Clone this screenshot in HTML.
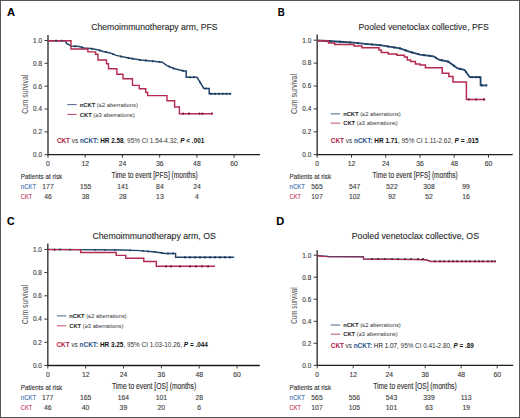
<!DOCTYPE html>
<html><head><meta charset="utf-8"><style>
html,body{margin:0;padding:0;background:#fff;}
body{width:520px;height:418px;overflow:hidden;position:relative;}
svg{position:absolute;left:0;top:0;font-family:"Liberation Sans",sans-serif;}
svg text{stroke-width:0.12px;}

.frame{position:absolute;left:0;top:0;width:518px;height:416px;border:1px solid #555;}
</style></head><body>
<svg width="520" height="418" viewBox="0 0 520 418">
<line x1="48.0" y1="35.0" x2="48.0" y2="155.2" stroke="#4e4e4e" stroke-width="1.6"/>
<line x1="47.4" y1="154.7" x2="260.0" y2="154.7" stroke="#1e1e1e" stroke-width="1.3"/>
<line x1="44.5" y1="154.7" x2="48.0" y2="154.7" stroke="#3a3a3a" stroke-width="1.0"/>
<text x="42.0" y="157.0" font-size="6.4" text-anchor="end" fill="#3c3c3c" stroke="#3c3c3c" font-weight="normal" >0.0</text>
<line x1="44.5" y1="131.9" x2="48.0" y2="131.9" stroke="#3a3a3a" stroke-width="1.0"/>
<text x="42.0" y="134.2" font-size="6.4" text-anchor="end" fill="#3c3c3c" stroke="#3c3c3c" font-weight="normal" >0.2</text>
<line x1="44.5" y1="109.0" x2="48.0" y2="109.0" stroke="#3a3a3a" stroke-width="1.0"/>
<text x="42.0" y="111.3" font-size="6.4" text-anchor="end" fill="#3c3c3c" stroke="#3c3c3c" font-weight="normal" >0.4</text>
<line x1="44.5" y1="86.2" x2="48.0" y2="86.2" stroke="#3a3a3a" stroke-width="1.0"/>
<text x="42.0" y="88.5" font-size="6.4" text-anchor="end" fill="#3c3c3c" stroke="#3c3c3c" font-weight="normal" >0.6</text>
<line x1="44.5" y1="63.3" x2="48.0" y2="63.3" stroke="#3a3a3a" stroke-width="1.0"/>
<text x="42.0" y="65.6" font-size="6.4" text-anchor="end" fill="#3c3c3c" stroke="#3c3c3c" font-weight="normal" >0.8</text>
<line x1="44.5" y1="40.5" x2="48.0" y2="40.5" stroke="#3a3a3a" stroke-width="1.0"/>
<text x="42.0" y="42.8" font-size="6.4" text-anchor="end" fill="#3c3c3c" stroke="#3c3c3c" font-weight="normal" >1.0</text>
<line x1="48.0" y1="154.7" x2="48.0" y2="157.7" stroke="#3a3a3a" stroke-width="1.0"/>
<text x="48.0" y="166.4" font-size="6.8" text-anchor="middle" fill="#3c3c3c" stroke="#3c3c3c" font-weight="normal" >0</text>
<line x1="85.2" y1="154.7" x2="85.2" y2="157.7" stroke="#3a3a3a" stroke-width="1.0"/>
<text x="85.2" y="166.4" font-size="6.8" text-anchor="middle" fill="#3c3c3c" stroke="#3c3c3c" font-weight="normal" >12</text>
<line x1="122.5" y1="154.7" x2="122.5" y2="157.7" stroke="#3a3a3a" stroke-width="1.0"/>
<text x="122.5" y="166.4" font-size="6.8" text-anchor="middle" fill="#3c3c3c" stroke="#3c3c3c" font-weight="normal" >24</text>
<line x1="159.7" y1="154.7" x2="159.7" y2="157.7" stroke="#3a3a3a" stroke-width="1.0"/>
<text x="159.7" y="166.4" font-size="6.8" text-anchor="middle" fill="#3c3c3c" stroke="#3c3c3c" font-weight="normal" >36</text>
<line x1="196.9" y1="154.7" x2="196.9" y2="157.7" stroke="#3a3a3a" stroke-width="1.0"/>
<text x="196.9" y="166.4" font-size="6.8" text-anchor="middle" fill="#3c3c3c" stroke="#3c3c3c" font-weight="normal" >48</text>
<line x1="234.1" y1="154.7" x2="234.1" y2="157.7" stroke="#3a3a3a" stroke-width="1.0"/>
<text x="234.1" y="166.4" font-size="6.8" text-anchor="middle" fill="#3c3c3c" stroke="#3c3c3c" font-weight="normal" >60</text>
<line x1="317.2" y1="34.6" x2="317.2" y2="155.2" stroke="#4e4e4e" stroke-width="1.6"/>
<line x1="316.6" y1="154.7" x2="512.7" y2="154.7" stroke="#1e1e1e" stroke-width="1.3"/>
<line x1="313.7" y1="154.7" x2="317.2" y2="154.7" stroke="#3a3a3a" stroke-width="1.0"/>
<text x="311.2" y="157.0" font-size="6.4" text-anchor="end" fill="#3c3c3c" stroke="#3c3c3c" font-weight="normal" >0.0</text>
<line x1="313.7" y1="131.8" x2="317.2" y2="131.8" stroke="#3a3a3a" stroke-width="1.0"/>
<text x="311.2" y="134.1" font-size="6.4" text-anchor="end" fill="#3c3c3c" stroke="#3c3c3c" font-weight="normal" >0.2</text>
<line x1="313.7" y1="108.9" x2="317.2" y2="108.9" stroke="#3a3a3a" stroke-width="1.0"/>
<text x="311.2" y="111.2" font-size="6.4" text-anchor="end" fill="#3c3c3c" stroke="#3c3c3c" font-weight="normal" >0.4</text>
<line x1="313.7" y1="86.0" x2="317.2" y2="86.0" stroke="#3a3a3a" stroke-width="1.0"/>
<text x="311.2" y="88.3" font-size="6.4" text-anchor="end" fill="#3c3c3c" stroke="#3c3c3c" font-weight="normal" >0.6</text>
<line x1="313.7" y1="63.1" x2="317.2" y2="63.1" stroke="#3a3a3a" stroke-width="1.0"/>
<text x="311.2" y="65.4" font-size="6.4" text-anchor="end" fill="#3c3c3c" stroke="#3c3c3c" font-weight="normal" >0.8</text>
<line x1="313.7" y1="40.2" x2="317.2" y2="40.2" stroke="#3a3a3a" stroke-width="1.0"/>
<text x="311.2" y="42.5" font-size="6.4" text-anchor="end" fill="#3c3c3c" stroke="#3c3c3c" font-weight="normal" >1.0</text>
<line x1="317.2" y1="154.7" x2="317.2" y2="157.7" stroke="#3a3a3a" stroke-width="1.0"/>
<text x="317.2" y="166.4" font-size="6.8" text-anchor="middle" fill="#3c3c3c" stroke="#3c3c3c" font-weight="normal" >0</text>
<line x1="351.5" y1="154.7" x2="351.5" y2="157.7" stroke="#3a3a3a" stroke-width="1.0"/>
<text x="351.5" y="166.4" font-size="6.8" text-anchor="middle" fill="#3c3c3c" stroke="#3c3c3c" font-weight="normal" >12</text>
<line x1="385.7" y1="154.7" x2="385.7" y2="157.7" stroke="#3a3a3a" stroke-width="1.0"/>
<text x="385.7" y="166.4" font-size="6.8" text-anchor="middle" fill="#3c3c3c" stroke="#3c3c3c" font-weight="normal" >24</text>
<line x1="420.0" y1="154.7" x2="420.0" y2="157.7" stroke="#3a3a3a" stroke-width="1.0"/>
<text x="420.0" y="166.4" font-size="6.8" text-anchor="middle" fill="#3c3c3c" stroke="#3c3c3c" font-weight="normal" >36</text>
<line x1="454.2" y1="154.7" x2="454.2" y2="157.7" stroke="#3a3a3a" stroke-width="1.0"/>
<text x="454.2" y="166.4" font-size="6.8" text-anchor="middle" fill="#3c3c3c" stroke="#3c3c3c" font-weight="normal" >48</text>
<line x1="488.5" y1="154.7" x2="488.5" y2="157.7" stroke="#3a3a3a" stroke-width="1.0"/>
<text x="488.5" y="166.4" font-size="6.8" text-anchor="middle" fill="#3c3c3c" stroke="#3c3c3c" font-weight="normal" >60</text>
<line x1="47.8" y1="243.6" x2="47.8" y2="366.0" stroke="#4e4e4e" stroke-width="1.6"/>
<line x1="47.2" y1="365.5" x2="259.8" y2="365.5" stroke="#1e1e1e" stroke-width="1.3"/>
<line x1="44.3" y1="365.5" x2="47.8" y2="365.5" stroke="#3a3a3a" stroke-width="1.0"/>
<text x="41.8" y="367.8" font-size="6.4" text-anchor="end" fill="#3c3c3c" stroke="#3c3c3c" font-weight="normal" >0.0</text>
<line x1="44.3" y1="342.3" x2="47.8" y2="342.3" stroke="#3a3a3a" stroke-width="1.0"/>
<text x="41.8" y="344.6" font-size="6.4" text-anchor="end" fill="#3c3c3c" stroke="#3c3c3c" font-weight="normal" >0.2</text>
<line x1="44.3" y1="319.1" x2="47.8" y2="319.1" stroke="#3a3a3a" stroke-width="1.0"/>
<text x="41.8" y="321.4" font-size="6.4" text-anchor="end" fill="#3c3c3c" stroke="#3c3c3c" font-weight="normal" >0.4</text>
<line x1="44.3" y1="295.8" x2="47.8" y2="295.8" stroke="#3a3a3a" stroke-width="1.0"/>
<text x="41.8" y="298.1" font-size="6.4" text-anchor="end" fill="#3c3c3c" stroke="#3c3c3c" font-weight="normal" >0.6</text>
<line x1="44.3" y1="272.6" x2="47.8" y2="272.6" stroke="#3a3a3a" stroke-width="1.0"/>
<text x="41.8" y="274.9" font-size="6.4" text-anchor="end" fill="#3c3c3c" stroke="#3c3c3c" font-weight="normal" >0.8</text>
<line x1="44.3" y1="249.4" x2="47.8" y2="249.4" stroke="#3a3a3a" stroke-width="1.0"/>
<text x="41.8" y="251.7" font-size="6.4" text-anchor="end" fill="#3c3c3c" stroke="#3c3c3c" font-weight="normal" >1.0</text>
<line x1="47.8" y1="365.5" x2="47.8" y2="368.5" stroke="#3a3a3a" stroke-width="1.0"/>
<text x="47.8" y="377.0" font-size="6.8" text-anchor="middle" fill="#3c3c3c" stroke="#3c3c3c" font-weight="normal" >0</text>
<line x1="85.7" y1="365.5" x2="85.7" y2="368.5" stroke="#3a3a3a" stroke-width="1.0"/>
<text x="85.7" y="377.0" font-size="6.8" text-anchor="middle" fill="#3c3c3c" stroke="#3c3c3c" font-weight="normal" >12</text>
<line x1="123.5" y1="365.5" x2="123.5" y2="368.5" stroke="#3a3a3a" stroke-width="1.0"/>
<text x="123.5" y="377.0" font-size="6.8" text-anchor="middle" fill="#3c3c3c" stroke="#3c3c3c" font-weight="normal" >24</text>
<line x1="161.4" y1="365.5" x2="161.4" y2="368.5" stroke="#3a3a3a" stroke-width="1.0"/>
<text x="161.4" y="377.0" font-size="6.8" text-anchor="middle" fill="#3c3c3c" stroke="#3c3c3c" font-weight="normal" >36</text>
<line x1="199.2" y1="365.5" x2="199.2" y2="368.5" stroke="#3a3a3a" stroke-width="1.0"/>
<text x="199.2" y="377.0" font-size="6.8" text-anchor="middle" fill="#3c3c3c" stroke="#3c3c3c" font-weight="normal" >48</text>
<line x1="237.1" y1="365.5" x2="237.1" y2="368.5" stroke="#3a3a3a" stroke-width="1.0"/>
<text x="237.1" y="377.0" font-size="6.8" text-anchor="middle" fill="#3c3c3c" stroke="#3c3c3c" font-weight="normal" >60</text>
<line x1="317.2" y1="250.2" x2="317.2" y2="365.8" stroke="#4e4e4e" stroke-width="1.6"/>
<line x1="316.6" y1="365.3" x2="513.2" y2="365.3" stroke="#1e1e1e" stroke-width="1.3"/>
<line x1="313.7" y1="365.3" x2="317.2" y2="365.3" stroke="#3a3a3a" stroke-width="1.0"/>
<text x="311.2" y="367.6" font-size="6.4" text-anchor="end" fill="#3c3c3c" stroke="#3c3c3c" font-weight="normal" >0.0</text>
<line x1="313.7" y1="343.3" x2="317.2" y2="343.3" stroke="#3a3a3a" stroke-width="1.0"/>
<text x="311.2" y="345.6" font-size="6.4" text-anchor="end" fill="#3c3c3c" stroke="#3c3c3c" font-weight="normal" >0.2</text>
<line x1="313.7" y1="321.3" x2="317.2" y2="321.3" stroke="#3a3a3a" stroke-width="1.0"/>
<text x="311.2" y="323.6" font-size="6.4" text-anchor="end" fill="#3c3c3c" stroke="#3c3c3c" font-weight="normal" >0.4</text>
<line x1="313.7" y1="299.2" x2="317.2" y2="299.2" stroke="#3a3a3a" stroke-width="1.0"/>
<text x="311.2" y="301.5" font-size="6.4" text-anchor="end" fill="#3c3c3c" stroke="#3c3c3c" font-weight="normal" >0.6</text>
<line x1="313.7" y1="277.2" x2="317.2" y2="277.2" stroke="#3a3a3a" stroke-width="1.0"/>
<text x="311.2" y="279.5" font-size="6.4" text-anchor="end" fill="#3c3c3c" stroke="#3c3c3c" font-weight="normal" >0.8</text>
<line x1="313.7" y1="255.2" x2="317.2" y2="255.2" stroke="#3a3a3a" stroke-width="1.0"/>
<text x="311.2" y="257.5" font-size="6.4" text-anchor="end" fill="#3c3c3c" stroke="#3c3c3c" font-weight="normal" >1.0</text>
<line x1="317.2" y1="365.3" x2="317.2" y2="368.3" stroke="#3a3a3a" stroke-width="1.0"/>
<text x="317.2" y="377.0" font-size="6.8" text-anchor="middle" fill="#3c3c3c" stroke="#3c3c3c" font-weight="normal" >0</text>
<line x1="353.2" y1="365.3" x2="353.2" y2="368.3" stroke="#3a3a3a" stroke-width="1.0"/>
<text x="353.2" y="377.0" font-size="6.8" text-anchor="middle" fill="#3c3c3c" stroke="#3c3c3c" font-weight="normal" >12</text>
<line x1="389.2" y1="365.3" x2="389.2" y2="368.3" stroke="#3a3a3a" stroke-width="1.0"/>
<text x="389.2" y="377.0" font-size="6.8" text-anchor="middle" fill="#3c3c3c" stroke="#3c3c3c" font-weight="normal" >24</text>
<line x1="425.2" y1="365.3" x2="425.2" y2="368.3" stroke="#3a3a3a" stroke-width="1.0"/>
<text x="425.2" y="377.0" font-size="6.8" text-anchor="middle" fill="#3c3c3c" stroke="#3c3c3c" font-weight="normal" >36</text>
<line x1="461.2" y1="365.3" x2="461.2" y2="368.3" stroke="#3a3a3a" stroke-width="1.0"/>
<text x="461.2" y="377.0" font-size="6.8" text-anchor="middle" fill="#3c3c3c" stroke="#3c3c3c" font-weight="normal" >48</text>
<line x1="497.2" y1="365.3" x2="497.2" y2="368.3" stroke="#3a3a3a" stroke-width="1.0"/>
<text x="497.2" y="377.0" font-size="6.8" text-anchor="middle" fill="#3c3c3c" stroke="#3c3c3c" font-weight="normal" >60</text>
<text x="7.0" y="15.9" font-size="11.2" text-anchor="start" fill="#000" stroke="#000" font-weight="bold" stroke="#000" stroke-width="0.3">A</text>
<text x="277.8" y="15.9" font-size="11.2" text-anchor="start" fill="#000" stroke="#000" font-weight="bold" textLength="7.0" lengthAdjust="spacingAndGlyphs" stroke="#000" stroke-width="0.3">B</text>
<text x="6.9" y="224.6" font-size="11.2" text-anchor="start" fill="#000" stroke="#000" font-weight="bold" textLength="7.6" lengthAdjust="spacingAndGlyphs" stroke="#000" stroke-width="0.3">C</text>
<text x="276.3" y="224.6" font-size="11.2" text-anchor="start" fill="#000" stroke="#000" font-weight="bold" textLength="8.0" lengthAdjust="spacingAndGlyphs" stroke="#000" stroke-width="0.3">D</text>
<text x="91.2" y="30.0" font-size="9.4" text-anchor="start" fill="#2a2a2a" stroke="#2a2a2a" font-weight="normal" textLength="126.3" lengthAdjust="spacingAndGlyphs" >Chemoimmunotherapy arm, PFS</text>
<text x="358.6" y="30.0" font-size="9.4" text-anchor="start" fill="#2a2a2a" stroke="#2a2a2a" font-weight="normal" textLength="130.2" lengthAdjust="spacingAndGlyphs" >Pooled venetoclax collective, PFS</text>
<text x="92.4" y="239.0" font-size="9.4" text-anchor="start" fill="#2a2a2a" stroke="#2a2a2a" font-weight="normal" textLength="123.4" lengthAdjust="spacingAndGlyphs" >Chemoimmunotherapy arm, OS</text>
<text x="351.8" y="239.0" font-size="9.4" text-anchor="start" fill="#2a2a2a" stroke="#2a2a2a" font-weight="normal" textLength="127.2" lengthAdjust="spacingAndGlyphs" >Pooled venetoclax collective, OS</text>
<text x="0" y="0" font-size="9.4" fill="#4a4a4a" text-anchor="middle" textLength="39" lengthAdjust="spacingAndGlyphs" transform="translate(28.1,94.3) rotate(-90)">Cum survival</text>
<text x="0" y="0" font-size="9.4" fill="#4a4a4a" text-anchor="middle" textLength="40" lengthAdjust="spacingAndGlyphs" transform="translate(297.4,94.0) rotate(-90)">Cum survival</text>
<text x="0" y="0" font-size="9.4" fill="#4a4a4a" text-anchor="middle" textLength="39.5" lengthAdjust="spacingAndGlyphs" transform="translate(27.7,304.6) rotate(-90)">Cum survival</text>
<text x="0" y="0" font-size="9.4" fill="#4a4a4a" text-anchor="middle" textLength="36.5" lengthAdjust="spacingAndGlyphs" transform="translate(297.4,305.5) rotate(-90)">Cum survival</text>
<text x="111.6" y="178.1" font-size="8.4" text-anchor="start" fill="#2e2e2e" stroke="#2e2e2e" font-weight="normal" textLength="86.1" lengthAdjust="spacingAndGlyphs" >Time to event [PFS] (months)</text>
<text x="372.5" y="178.1" font-size="8.4" text-anchor="start" fill="#2e2e2e" stroke="#2e2e2e" font-weight="normal" textLength="85.2" lengthAdjust="spacingAndGlyphs" >Time to event [PFS] (months)</text>
<text x="112.0" y="389.4" font-size="8.4" text-anchor="start" fill="#2e2e2e" stroke="#2e2e2e" font-weight="normal" textLength="84.2" lengthAdjust="spacingAndGlyphs" >Time to event [OS] (months)</text>
<text x="373.2" y="389.4" font-size="8.4" text-anchor="start" fill="#2e2e2e" stroke="#2e2e2e" font-weight="normal" textLength="83.5" lengthAdjust="spacingAndGlyphs" >Time to event [OS] (months)</text>
<text x="20.8" y="179.3" font-size="7.0" text-anchor="start" fill="#333" stroke="#333" font-weight="normal" textLength="41.5" lengthAdjust="spacingAndGlyphs" >Patients at risk</text>
<text x="20.8" y="189.0" font-size="6.9" text-anchor="start" fill="#3f70ae" stroke="#3f70ae" font-weight="normal" textLength="15.4" lengthAdjust="spacingAndGlyphs" >nCKT</text>
<text x="20.8" y="199.2" font-size="6.9" text-anchor="start" fill="#c93a60" stroke="#c93a60" font-weight="normal" textLength="11.5" lengthAdjust="spacingAndGlyphs" >CKT</text>
<text x="48.0" y="189.0" font-size="6.8" text-anchor="middle" fill="#3e3e3e" stroke="#3e3e3e" font-weight="normal" >177</text>
<text x="48.0" y="199.2" font-size="6.8" text-anchor="middle" fill="#3e3e3e" stroke="#3e3e3e" font-weight="normal" >46</text>
<text x="85.6" y="189.0" font-size="6.8" text-anchor="middle" fill="#3e3e3e" stroke="#3e3e3e" font-weight="normal" >155</text>
<text x="85.6" y="199.2" font-size="6.8" text-anchor="middle" fill="#3e3e3e" stroke="#3e3e3e" font-weight="normal" >38</text>
<text x="122.8" y="189.0" font-size="6.8" text-anchor="middle" fill="#3e3e3e" stroke="#3e3e3e" font-weight="normal" >141</text>
<text x="122.8" y="199.2" font-size="6.8" text-anchor="middle" fill="#3e3e3e" stroke="#3e3e3e" font-weight="normal" >28</text>
<text x="159.9" y="189.0" font-size="6.8" text-anchor="middle" fill="#3e3e3e" stroke="#3e3e3e" font-weight="normal" >84</text>
<text x="159.9" y="199.2" font-size="6.8" text-anchor="middle" fill="#3e3e3e" stroke="#3e3e3e" font-weight="normal" >13</text>
<text x="197.0" y="189.0" font-size="6.8" text-anchor="middle" fill="#3e3e3e" stroke="#3e3e3e" font-weight="normal" >24</text>
<text x="197.0" y="199.2" font-size="6.8" text-anchor="middle" fill="#3e3e3e" stroke="#3e3e3e" font-weight="normal" >4</text>
<text x="289.6" y="179.3" font-size="7.0" text-anchor="start" fill="#333" stroke="#333" font-weight="normal" textLength="41.5" lengthAdjust="spacingAndGlyphs" >Patients at risk</text>
<text x="289.6" y="189.0" font-size="6.9" text-anchor="start" fill="#3f70ae" stroke="#3f70ae" font-weight="normal" textLength="15.4" lengthAdjust="spacingAndGlyphs" >nCKT</text>
<text x="289.6" y="199.2" font-size="6.9" text-anchor="start" fill="#c93a60" stroke="#c93a60" font-weight="normal" textLength="11.5" lengthAdjust="spacingAndGlyphs" >CKT</text>
<text x="317.0" y="189.0" font-size="6.8" text-anchor="middle" fill="#3e3e3e" stroke="#3e3e3e" font-weight="normal" >565</text>
<text x="317.0" y="199.2" font-size="6.8" text-anchor="middle" fill="#3e3e3e" stroke="#3e3e3e" font-weight="normal" >107</text>
<text x="354.6" y="189.0" font-size="6.8" text-anchor="middle" fill="#3e3e3e" stroke="#3e3e3e" font-weight="normal" >547</text>
<text x="354.6" y="199.2" font-size="6.8" text-anchor="middle" fill="#3e3e3e" stroke="#3e3e3e" font-weight="normal" >102</text>
<text x="392.0" y="189.0" font-size="6.8" text-anchor="middle" fill="#3e3e3e" stroke="#3e3e3e" font-weight="normal" >522</text>
<text x="392.0" y="199.2" font-size="6.8" text-anchor="middle" fill="#3e3e3e" stroke="#3e3e3e" font-weight="normal" >92</text>
<text x="429.0" y="189.0" font-size="6.8" text-anchor="middle" fill="#3e3e3e" stroke="#3e3e3e" font-weight="normal" >308</text>
<text x="429.0" y="199.2" font-size="6.8" text-anchor="middle" fill="#3e3e3e" stroke="#3e3e3e" font-weight="normal" >52</text>
<text x="466.0" y="189.0" font-size="6.8" text-anchor="middle" fill="#3e3e3e" stroke="#3e3e3e" font-weight="normal" >99</text>
<text x="466.0" y="199.2" font-size="6.8" text-anchor="middle" fill="#3e3e3e" stroke="#3e3e3e" font-weight="normal" >16</text>
<text x="20.8" y="389.9" font-size="7.0" text-anchor="start" fill="#333" stroke="#333" font-weight="normal" textLength="41.5" lengthAdjust="spacingAndGlyphs" >Patients at risk</text>
<text x="20.8" y="399.6" font-size="6.9" text-anchor="start" fill="#3f70ae" stroke="#3f70ae" font-weight="normal" textLength="15.4" lengthAdjust="spacingAndGlyphs" >nCKT</text>
<text x="20.8" y="409.8" font-size="6.9" text-anchor="start" fill="#c93a60" stroke="#c93a60" font-weight="normal" textLength="11.5" lengthAdjust="spacingAndGlyphs" >CKT</text>
<text x="47.7" y="399.6" font-size="6.8" text-anchor="middle" fill="#3e3e3e" stroke="#3e3e3e" font-weight="normal" >177</text>
<text x="47.7" y="409.8" font-size="6.8" text-anchor="middle" fill="#3e3e3e" stroke="#3e3e3e" font-weight="normal" >46</text>
<text x="85.6" y="399.6" font-size="6.8" text-anchor="middle" fill="#3e3e3e" stroke="#3e3e3e" font-weight="normal" >165</text>
<text x="85.6" y="409.8" font-size="6.8" text-anchor="middle" fill="#3e3e3e" stroke="#3e3e3e" font-weight="normal" >40</text>
<text x="123.4" y="399.6" font-size="6.8" text-anchor="middle" fill="#3e3e3e" stroke="#3e3e3e" font-weight="normal" >164</text>
<text x="123.4" y="409.8" font-size="6.8" text-anchor="middle" fill="#3e3e3e" stroke="#3e3e3e" font-weight="normal" >39</text>
<text x="161.3" y="399.6" font-size="6.8" text-anchor="middle" fill="#3e3e3e" stroke="#3e3e3e" font-weight="normal" >101</text>
<text x="161.3" y="409.8" font-size="6.8" text-anchor="middle" fill="#3e3e3e" stroke="#3e3e3e" font-weight="normal" >20</text>
<text x="199.2" y="399.6" font-size="6.8" text-anchor="middle" fill="#3e3e3e" stroke="#3e3e3e" font-weight="normal" >28</text>
<text x="199.2" y="409.8" font-size="6.8" text-anchor="middle" fill="#3e3e3e" stroke="#3e3e3e" font-weight="normal" >6</text>
<text x="289.6" y="389.9" font-size="7.0" text-anchor="start" fill="#333" stroke="#333" font-weight="normal" textLength="41.5" lengthAdjust="spacingAndGlyphs" >Patients at risk</text>
<text x="289.6" y="399.6" font-size="6.9" text-anchor="start" fill="#3f70ae" stroke="#3f70ae" font-weight="normal" textLength="15.4" lengthAdjust="spacingAndGlyphs" >nCKT</text>
<text x="289.6" y="409.8" font-size="6.9" text-anchor="start" fill="#c93a60" stroke="#c93a60" font-weight="normal" textLength="11.5" lengthAdjust="spacingAndGlyphs" >CKT</text>
<text x="317.0" y="399.6" font-size="6.8" text-anchor="middle" fill="#3e3e3e" stroke="#3e3e3e" font-weight="normal" >565</text>
<text x="317.0" y="409.8" font-size="6.8" text-anchor="middle" fill="#3e3e3e" stroke="#3e3e3e" font-weight="normal" >107</text>
<text x="354.3" y="399.6" font-size="6.8" text-anchor="middle" fill="#3e3e3e" stroke="#3e3e3e" font-weight="normal" >556</text>
<text x="354.3" y="409.8" font-size="6.8" text-anchor="middle" fill="#3e3e3e" stroke="#3e3e3e" font-weight="normal" >105</text>
<text x="391.5" y="399.6" font-size="6.8" text-anchor="middle" fill="#3e3e3e" stroke="#3e3e3e" font-weight="normal" >543</text>
<text x="391.5" y="409.8" font-size="6.8" text-anchor="middle" fill="#3e3e3e" stroke="#3e3e3e" font-weight="normal" >101</text>
<text x="429.0" y="399.6" font-size="6.8" text-anchor="middle" fill="#3e3e3e" stroke="#3e3e3e" font-weight="normal" >339</text>
<text x="429.0" y="409.8" font-size="6.8" text-anchor="middle" fill="#3e3e3e" stroke="#3e3e3e" font-weight="normal" >63</text>
<text x="466.2" y="399.6" font-size="6.8" text-anchor="middle" fill="#3e3e3e" stroke="#3e3e3e" font-weight="normal" >113</text>
<text x="466.2" y="409.8" font-size="6.8" text-anchor="middle" fill="#3e3e3e" stroke="#3e3e3e" font-weight="normal" >19</text>
<line x1="67.3" y1="104.6" x2="76.7" y2="104.6" stroke="#4a6688" stroke-width="1.0"/>
<line x1="67.3" y1="114.4" x2="76.7" y2="114.4" stroke="#c04a6c" stroke-width="1.0"/>
<text x="79.7" y="106.7" font-size="6" fill="#333" textLength="58.2" lengthAdjust="spacingAndGlyphs"><tspan font-weight="bold" fill="#222">nCKT</tspan> (&#8804;2 aberrations)</text>
<text x="79.7" y="116.5" font-size="6" fill="#333" textLength="54.9" lengthAdjust="spacingAndGlyphs"><tspan font-weight="bold" fill="#222">CKT</tspan> (&#8805;3 aberrations)</text>
<line x1="330.8" y1="113.9" x2="340.2" y2="113.9" stroke="#4a6688" stroke-width="1.0"/>
<line x1="330.8" y1="123.1" x2="340.2" y2="123.1" stroke="#c04a6c" stroke-width="1.0"/>
<text x="343.2" y="116.0" font-size="6" fill="#333" textLength="57.5" lengthAdjust="spacingAndGlyphs"><tspan font-weight="bold" fill="#222">nCKT</tspan> (&#8804;2 aberrations)</text>
<text x="343.2" y="125.2" font-size="6" fill="#333" textLength="54.5" lengthAdjust="spacingAndGlyphs"><tspan font-weight="bold" fill="#222">CKT</tspan> (&#8805;3 aberrations)</text>
<line x1="56.9" y1="315.9" x2="66.3" y2="315.9" stroke="#4a6688" stroke-width="1.0"/>
<line x1="56.9" y1="325.8" x2="66.3" y2="325.8" stroke="#c04a6c" stroke-width="1.0"/>
<text x="69.3" y="318.0" font-size="6" fill="#333" textLength="57.4" lengthAdjust="spacingAndGlyphs"><tspan font-weight="bold" fill="#222">nCKT</tspan> (&#8804;2 aberrations)</text>
<text x="69.3" y="327.9" font-size="6" fill="#333" textLength="54.1" lengthAdjust="spacingAndGlyphs"><tspan font-weight="bold" fill="#222">CKT</tspan> (&#8805;3 aberrations)</text>
<line x1="330.8" y1="325.0" x2="340.2" y2="325.0" stroke="#4a6688" stroke-width="1.0"/>
<line x1="330.8" y1="334.2" x2="340.2" y2="334.2" stroke="#c04a6c" stroke-width="1.0"/>
<text x="343.2" y="327.1" font-size="6" fill="#333" textLength="57.5" lengthAdjust="spacingAndGlyphs"><tspan font-weight="bold" fill="#222">nCKT</tspan> (&#8804;2 aberrations)</text>
<text x="343.2" y="336.3" font-size="6" fill="#333" textLength="54.5" lengthAdjust="spacingAndGlyphs"><tspan font-weight="bold" fill="#222">CKT</tspan> (&#8805;3 aberrations)</text>
<text x="56.9" y="142.5" font-size="6.5" fill="#333" textLength="147.4" lengthAdjust="spacingAndGlyphs"><tspan font-weight="bold" fill="#b0173f">CKT</tspan> vs <tspan font-weight="bold" fill="#1f4f88">nCKT:</tspan> <tspan font-weight="bold" fill="#111">HR 2.58</tspan>, 95% CI 1.54-4.32, <tspan font-weight="bold" font-style="italic" fill="#111">P</tspan><tspan font-weight="bold" fill="#111"> &lt; .001</tspan></text>
<text x="330.8" y="142.6" font-size="6.5" fill="#333" textLength="147.9" lengthAdjust="spacingAndGlyphs"><tspan font-weight="bold" fill="#b0173f">CKT</tspan> vs <tspan font-weight="bold" fill="#1f4f88">nCKT:</tspan> <tspan font-weight="bold" fill="#111">HR 1.71</tspan>, 95% CI 1.11-2.62, <tspan font-weight="bold" font-style="italic" fill="#111">P</tspan><tspan font-weight="bold" fill="#111"> = .015</tspan></text>
<text x="56.5" y="346.9" font-size="6.5" fill="#333" textLength="151.4" lengthAdjust="spacingAndGlyphs"><tspan font-weight="bold" fill="#b0173f">CKT</tspan> vs <tspan font-weight="bold" fill="#1f4f88">nCKT:</tspan> <tspan font-weight="bold" fill="#111">HR 3.25</tspan>, 95% CI 1.03-10.26, <tspan font-weight="bold" font-style="italic" fill="#111">P</tspan><tspan font-weight="bold" fill="#111"> = .044</tspan></text>
<text x="330.8" y="347.9" font-size="6.5" fill="#333" textLength="143.0" lengthAdjust="spacingAndGlyphs"><tspan font-weight="bold" fill="#b0173f">CKT</tspan> vs <tspan font-weight="bold" fill="#1f4f88">nCKT:</tspan> <tspan font-weight="normal" fill="#111">HR 1.07</tspan>, 95% CI 0.41-2.80, <tspan font-weight="bold" font-style="italic" fill="#111">P</tspan><tspan font-weight="bold" fill="#111"> = .89</tspan></text>
<path d="M48.0,40.8 L65.3,40.8 L66.7,43.7 L69.0,44.7 L71.0,46.1 L79.2,46.6 L84.0,48.0 L90.8,48.5 L98.5,50.0 L103.3,51.4 L110.0,52.9 L116.2,55.4 L128.5,58.0 L140.8,60.0 L156.0,61.5 L162.3,62.2 L166.9,65.7 L174.6,68.8 L183.8,71.1 L186.2,71.1 L186.2,77.2 L197.0,77.2 L203.8,88.5 L209.2,88.5 L209.2,93.8 L230.4,93.8" fill="none" stroke="#22466c" stroke-width="1.5" stroke-linejoin="miter"/>
<path d="M48.0,40.8 L71.0,40.8 L71.0,49.0 L87.9,49.0 L87.9,51.9 L95.6,51.9 L95.6,54.3 L98.0,54.3 L98.0,60.0 L106.5,60.0 L106.5,63.8 L108.5,63.8 L108.5,68.7 L116.9,68.7 L116.9,74.2 L123.0,74.2 L123.0,78.8 L132.5,78.8 L132.5,85.4 L139.2,85.4 L139.2,88.8 L145.8,88.8 L145.8,92.5 L147.7,92.5 L147.7,95.6 L167.0,95.6 L167.0,100.8 L174.6,100.8 L174.6,107.0 L179.4,107.0 L179.4,113.7 L212.0,113.7 L212.0,113.7" fill="none" stroke="#b42a4e" stroke-width="1.4" stroke-linejoin="miter"/>
<line x1="211.0" y1="92.7" x2="211.0" y2="94.9" stroke="#1d3a5a" stroke-width="1.5"/>
<line x1="215.0" y1="92.7" x2="215.0" y2="94.9" stroke="#1d3a5a" stroke-width="1.5"/>
<line x1="219.0" y1="92.7" x2="219.0" y2="94.9" stroke="#1d3a5a" stroke-width="1.5"/>
<line x1="222.7" y1="92.7" x2="222.7" y2="94.9" stroke="#1d3a5a" stroke-width="1.5"/>
<line x1="226.5" y1="92.7" x2="226.5" y2="94.9" stroke="#1d3a5a" stroke-width="1.5"/>
<line x1="230.4" y1="92.7" x2="230.4" y2="94.9" stroke="#1d3a5a" stroke-width="1.5"/>
<line x1="56.0" y1="39.8" x2="56.0" y2="41.8" stroke="#1d3a5a" stroke-width="1.4"/>
<line x1="62.0" y1="39.8" x2="62.0" y2="41.8" stroke="#1d3a5a" stroke-width="1.4"/>
<line x1="75.0" y1="45.3" x2="75.0" y2="47.3" stroke="#1d3a5a" stroke-width="1.4"/>
<line x1="82.0" y1="46.4" x2="82.0" y2="48.4" stroke="#1d3a5a" stroke-width="1.4"/>
<line x1="92.0" y1="47.7" x2="92.0" y2="49.7" stroke="#1d3a5a" stroke-width="1.4"/>
<line x1="100.0" y1="49.4" x2="100.0" y2="51.4" stroke="#1d3a5a" stroke-width="1.4"/>
<line x1="106.0" y1="51.0" x2="106.0" y2="53.0" stroke="#1d3a5a" stroke-width="1.4"/>
<line x1="113.0" y1="53.1" x2="113.0" y2="55.1" stroke="#1d3a5a" stroke-width="1.4"/>
<line x1="121.0" y1="55.4" x2="121.0" y2="57.4" stroke="#1d3a5a" stroke-width="1.4"/>
<line x1="128.5" y1="57.0" x2="128.5" y2="59.0" stroke="#1d3a5a" stroke-width="1.4"/>
<line x1="132.5" y1="57.7" x2="132.5" y2="59.7" stroke="#1d3a5a" stroke-width="1.4"/>
<line x1="140.0" y1="58.9" x2="140.0" y2="60.9" stroke="#1d3a5a" stroke-width="1.4"/>
<line x1="145.8" y1="59.5" x2="145.8" y2="61.5" stroke="#1d3a5a" stroke-width="1.4"/>
<line x1="152.7" y1="60.2" x2="152.7" y2="62.2" stroke="#1d3a5a" stroke-width="1.4"/>
<line x1="159.6" y1="60.9" x2="159.6" y2="62.9" stroke="#1d3a5a" stroke-width="1.4"/>
<line x1="169.4" y1="65.7" x2="169.4" y2="67.7" stroke="#1d3a5a" stroke-width="1.4"/>
<line x1="173.5" y1="67.4" x2="173.5" y2="69.4" stroke="#1d3a5a" stroke-width="1.4"/>
<line x1="182.7" y1="69.8" x2="182.7" y2="71.8" stroke="#1d3a5a" stroke-width="1.4"/>
<line x1="190.0" y1="76.2" x2="190.0" y2="78.2" stroke="#1d3a5a" stroke-width="1.4"/>
<line x1="194.0" y1="76.2" x2="194.0" y2="78.2" stroke="#1d3a5a" stroke-width="1.4"/>
<line x1="200.0" y1="81.2" x2="200.0" y2="83.2" stroke="#1d3a5a" stroke-width="1.4"/>
<line x1="206.0" y1="87.5" x2="206.0" y2="89.5" stroke="#1d3a5a" stroke-width="1.4"/>
<line x1="183.3" y1="112.6" x2="183.3" y2="114.8" stroke="#7a1a36" stroke-width="1.5"/>
<line x1="189.0" y1="112.6" x2="189.0" y2="114.8" stroke="#7a1a36" stroke-width="1.5"/>
<line x1="199.6" y1="112.6" x2="199.6" y2="114.8" stroke="#7a1a36" stroke-width="1.5"/>
<line x1="202.5" y1="112.6" x2="202.5" y2="114.8" stroke="#7a1a36" stroke-width="1.5"/>
<line x1="212.0" y1="112.6" x2="212.0" y2="114.8" stroke="#7a1a36" stroke-width="1.5"/>
<path d="M317.4,40.5 L328.0,41.0 L343.8,42.0 L353.5,42.7 L365.0,43.9 L380.0,45.2 L400.0,48.4 L410.0,51.8 L420.0,54.6 L433.5,56.3 L438.8,59.7 L448.3,61.7 L457.7,68.5 L464.4,69.8 L469.8,77.2 L480.6,77.2 L480.6,85.3 L486.6,85.3" fill="none" stroke="#22466c" stroke-width="1.8" stroke-linejoin="miter"/>
<path d="M317.4,40.8 L328.5,40.8 L328.5,42.9 L334.7,42.9 L334.7,44.5 L354.0,44.5 L354.0,46.1 L362.0,46.1 L362.0,47.8 L379.0,47.8 L379.0,50.0 L381.3,50.0 L381.3,52.4 L388.3,52.4 L388.3,54.1 L396.9,54.1 L396.9,55.3 L404.4,55.3 L404.4,57.0 L407.3,57.0 L407.3,59.9 L410.7,59.9 L410.7,61.6 L415.4,61.6 L415.4,64.0 L420.0,64.0 L420.0,65.1 L425.4,65.1 L425.4,67.8 L442.2,67.8 L442.2,73.2 L448.9,73.2 L448.9,76.5 L453.0,76.5 L453.0,81.9 L466.4,81.9 L466.4,99.4 L485.3,99.4 L485.3,99.4" fill="none" stroke="#b42a4e" stroke-width="1.5" stroke-linejoin="miter"/>
<line x1="472.0" y1="76.1" x2="472.0" y2="78.3" stroke="#1d3a5a" stroke-width="1.5"/>
<line x1="476.3" y1="76.1" x2="476.3" y2="78.3" stroke="#1d3a5a" stroke-width="1.5"/>
<line x1="479.2" y1="76.1" x2="479.2" y2="78.3" stroke="#1d3a5a" stroke-width="1.5"/>
<line x1="482.0" y1="84.2" x2="482.0" y2="86.4" stroke="#1d3a5a" stroke-width="1.5"/>
<line x1="486.5" y1="84.2" x2="486.5" y2="86.4" stroke="#1d3a5a" stroke-width="1.5"/>
<line x1="330.0" y1="40.0" x2="330.0" y2="42.2" stroke="#1d3a5a" stroke-width="1.4"/>
<line x1="340.0" y1="40.7" x2="340.0" y2="42.9" stroke="#1d3a5a" stroke-width="1.4"/>
<line x1="350.0" y1="41.3" x2="350.0" y2="43.5" stroke="#1d3a5a" stroke-width="1.4"/>
<line x1="358.0" y1="42.1" x2="358.0" y2="44.3" stroke="#1d3a5a" stroke-width="1.4"/>
<line x1="366.0" y1="42.9" x2="366.0" y2="45.1" stroke="#1d3a5a" stroke-width="1.4"/>
<line x1="372.0" y1="43.4" x2="372.0" y2="45.6" stroke="#1d3a5a" stroke-width="1.4"/>
<line x1="380.0" y1="44.1" x2="380.0" y2="46.3" stroke="#1d3a5a" stroke-width="1.4"/>
<line x1="388.0" y1="45.4" x2="388.0" y2="47.6" stroke="#1d3a5a" stroke-width="1.4"/>
<line x1="394.0" y1="46.3" x2="394.0" y2="48.5" stroke="#1d3a5a" stroke-width="1.4"/>
<line x1="400.0" y1="47.3" x2="400.0" y2="49.5" stroke="#1d3a5a" stroke-width="1.4"/>
<line x1="406.0" y1="49.3" x2="406.0" y2="51.5" stroke="#1d3a5a" stroke-width="1.4"/>
<line x1="412.0" y1="51.3" x2="412.0" y2="53.5" stroke="#1d3a5a" stroke-width="1.4"/>
<line x1="418.0" y1="52.9" x2="418.0" y2="55.1" stroke="#1d3a5a" stroke-width="1.4"/>
<line x1="424.0" y1="54.0" x2="424.0" y2="56.2" stroke="#1d3a5a" stroke-width="1.4"/>
<line x1="430.0" y1="54.8" x2="430.0" y2="57.0" stroke="#1d3a5a" stroke-width="1.4"/>
<line x1="436.0" y1="56.8" x2="436.0" y2="59.0" stroke="#1d3a5a" stroke-width="1.4"/>
<line x1="442.0" y1="59.3" x2="442.0" y2="61.5" stroke="#1d3a5a" stroke-width="1.4"/>
<line x1="448.0" y1="60.5" x2="448.0" y2="62.7" stroke="#1d3a5a" stroke-width="1.4"/>
<line x1="454.0" y1="64.7" x2="454.0" y2="66.9" stroke="#1d3a5a" stroke-width="1.4"/>
<line x1="460.0" y1="67.8" x2="460.0" y2="70.0" stroke="#1d3a5a" stroke-width="1.4"/>
<line x1="466.0" y1="70.9" x2="466.0" y2="73.1" stroke="#1d3a5a" stroke-width="1.4"/>
<line x1="469.0" y1="98.3" x2="469.0" y2="100.5" stroke="#7a1a36" stroke-width="1.5"/>
<line x1="476.3" y1="98.3" x2="476.3" y2="100.5" stroke="#7a1a36" stroke-width="1.5"/>
<line x1="484.0" y1="98.3" x2="484.0" y2="100.5" stroke="#7a1a36" stroke-width="1.5"/>
<path d="M48.0,249.4 L122.0,250.0 L140.0,250.6 L155.4,252.0 L165.0,253.5 L175.6,253.5 L175.6,257.3 L234.2,257.3" fill="none" stroke="#22466c" stroke-width="1.4" stroke-linejoin="miter"/>
<path d="M48.0,249.6 L80.6,249.6 L80.6,252.5 L116.2,252.5 L116.2,255.4 L125.8,255.4 L125.8,258.3 L143.8,258.3 L143.8,261.5 L156.3,261.5 L156.3,266.3 L215.0,266.3 L215.0,266.3" fill="none" stroke="#b42a4e" stroke-width="1.4" stroke-linejoin="miter"/>
<line x1="185.0" y1="256.2" x2="185.0" y2="258.4" stroke="#1d3a5a" stroke-width="1.5"/>
<line x1="190.0" y1="256.2" x2="190.0" y2="258.4" stroke="#1d3a5a" stroke-width="1.5"/>
<line x1="195.0" y1="256.2" x2="195.0" y2="258.4" stroke="#1d3a5a" stroke-width="1.5"/>
<line x1="200.0" y1="256.2" x2="200.0" y2="258.4" stroke="#1d3a5a" stroke-width="1.5"/>
<line x1="205.0" y1="256.2" x2="205.0" y2="258.4" stroke="#1d3a5a" stroke-width="1.5"/>
<line x1="210.0" y1="256.2" x2="210.0" y2="258.4" stroke="#1d3a5a" stroke-width="1.5"/>
<line x1="215.0" y1="256.2" x2="215.0" y2="258.4" stroke="#1d3a5a" stroke-width="1.5"/>
<line x1="220.0" y1="256.2" x2="220.0" y2="258.4" stroke="#1d3a5a" stroke-width="1.5"/>
<line x1="225.0" y1="256.2" x2="225.0" y2="258.4" stroke="#1d3a5a" stroke-width="1.5"/>
<line x1="230.0" y1="256.2" x2="230.0" y2="258.4" stroke="#1d3a5a" stroke-width="1.5"/>
<line x1="166.0" y1="265.2" x2="166.0" y2="267.4" stroke="#7a1a36" stroke-width="1.5"/>
<line x1="171.0" y1="265.2" x2="171.0" y2="267.4" stroke="#7a1a36" stroke-width="1.5"/>
<line x1="180.0" y1="265.2" x2="180.0" y2="267.4" stroke="#7a1a36" stroke-width="1.5"/>
<line x1="190.0" y1="265.2" x2="190.0" y2="267.4" stroke="#7a1a36" stroke-width="1.5"/>
<line x1="196.0" y1="265.2" x2="196.0" y2="267.4" stroke="#7a1a36" stroke-width="1.5"/>
<line x1="202.0" y1="265.2" x2="202.0" y2="267.4" stroke="#7a1a36" stroke-width="1.5"/>
<line x1="208.0" y1="265.2" x2="208.0" y2="267.4" stroke="#7a1a36" stroke-width="1.5"/>
<line x1="54.6" y1="248.7" x2="54.6" y2="250.9" stroke="#7a1a36" stroke-width="1.5"/>
<line x1="60.0" y1="248.6" x2="60.0" y2="250.4" stroke="#1d3a5a" stroke-width="1.4"/>
<line x1="70.0" y1="248.7" x2="70.0" y2="250.5" stroke="#1d3a5a" stroke-width="1.4"/>
<line x1="95.0" y1="248.9" x2="95.0" y2="250.7" stroke="#1d3a5a" stroke-width="1.4"/>
<line x1="105.0" y1="249.0" x2="105.0" y2="250.8" stroke="#1d3a5a" stroke-width="1.4"/>
<line x1="115.0" y1="249.0" x2="115.0" y2="250.8" stroke="#1d3a5a" stroke-width="1.4"/>
<line x1="130.0" y1="249.4" x2="130.0" y2="251.2" stroke="#1d3a5a" stroke-width="1.4"/>
<line x1="143.0" y1="250.0" x2="143.0" y2="251.8" stroke="#1d3a5a" stroke-width="1.4"/>
<line x1="148.0" y1="250.4" x2="148.0" y2="252.2" stroke="#1d3a5a" stroke-width="1.4"/>
<line x1="155.0" y1="251.1" x2="155.0" y2="252.9" stroke="#1d3a5a" stroke-width="1.4"/>
<line x1="162.0" y1="252.1" x2="162.0" y2="253.9" stroke="#1d3a5a" stroke-width="1.4"/>
<line x1="168.0" y1="252.6" x2="168.0" y2="254.4" stroke="#1d3a5a" stroke-width="1.4"/>
<line x1="173.0" y1="252.6" x2="173.0" y2="254.4" stroke="#1d3a5a" stroke-width="1.4"/>
<path d="M317.2,255.6 L328.5,256.5 L363.5,256.7 L363.5,258.8 L415.0,259.4 L426.0,259.6 L431.0,261.3 L495.4,261.3" fill="none" stroke="#22466c" stroke-width="1.3" stroke-linejoin="miter"/>
<path d="M317.2,255.9 L328.5,256.8 L363.5,257.0 L363.5,259.1 L415.0,259.7 L426.0,259.9 L431.0,261.6 L495.4,261.6" fill="none" stroke="#b42a4e" stroke-width="1.1" stroke-linejoin="miter"/>
<line x1="435.0" y1="260.3" x2="435.0" y2="262.3" stroke="#5a1a38" stroke-width="1.5"/>
<line x1="440.0" y1="260.3" x2="440.0" y2="262.3" stroke="#5a1a38" stroke-width="1.5"/>
<line x1="444.0" y1="260.3" x2="444.0" y2="262.3" stroke="#5a1a38" stroke-width="1.5"/>
<line x1="449.0" y1="260.3" x2="449.0" y2="262.3" stroke="#5a1a38" stroke-width="1.5"/>
<line x1="453.0" y1="260.3" x2="453.0" y2="262.3" stroke="#5a1a38" stroke-width="1.5"/>
<line x1="457.0" y1="260.3" x2="457.0" y2="262.3" stroke="#5a1a38" stroke-width="1.5"/>
<line x1="462.0" y1="260.3" x2="462.0" y2="262.3" stroke="#5a1a38" stroke-width="1.5"/>
<line x1="466.0" y1="260.3" x2="466.0" y2="262.3" stroke="#5a1a38" stroke-width="1.5"/>
<line x1="470.0" y1="260.3" x2="470.0" y2="262.3" stroke="#5a1a38" stroke-width="1.5"/>
<line x1="475.0" y1="260.3" x2="475.0" y2="262.3" stroke="#5a1a38" stroke-width="1.5"/>
<line x1="479.0" y1="260.3" x2="479.0" y2="262.3" stroke="#5a1a38" stroke-width="1.5"/>
<line x1="483.0" y1="260.3" x2="483.0" y2="262.3" stroke="#5a1a38" stroke-width="1.5"/>
<line x1="488.0" y1="260.3" x2="488.0" y2="262.3" stroke="#5a1a38" stroke-width="1.5"/>
<line x1="492.0" y1="260.3" x2="492.0" y2="262.3" stroke="#5a1a38" stroke-width="1.5"/>
<line x1="495.0" y1="260.3" x2="495.0" y2="262.3" stroke="#5a1a38" stroke-width="1.5"/>
<line x1="372.0" y1="258.1" x2="372.0" y2="259.9" stroke="#5a1a38" stroke-width="1.5"/>
<line x1="378.0" y1="258.1" x2="378.0" y2="259.9" stroke="#5a1a38" stroke-width="1.5"/>
<line x1="385.0" y1="258.1" x2="385.0" y2="259.9" stroke="#5a1a38" stroke-width="1.5"/>
<line x1="392.0" y1="258.1" x2="392.0" y2="259.9" stroke="#5a1a38" stroke-width="1.5"/>
<line x1="398.0" y1="258.1" x2="398.0" y2="259.9" stroke="#5a1a38" stroke-width="1.5"/>
<line x1="405.0" y1="258.1" x2="405.0" y2="259.9" stroke="#5a1a38" stroke-width="1.5"/>
<line x1="411.0" y1="258.1" x2="411.0" y2="259.9" stroke="#5a1a38" stroke-width="1.5"/>
<line x1="418.0" y1="258.1" x2="418.0" y2="259.9" stroke="#5a1a38" stroke-width="1.5"/>
<line x1="423.0" y1="258.1" x2="423.0" y2="259.9" stroke="#5a1a38" stroke-width="1.5"/>
</svg>
<div class="frame"></div>
</body></html>
